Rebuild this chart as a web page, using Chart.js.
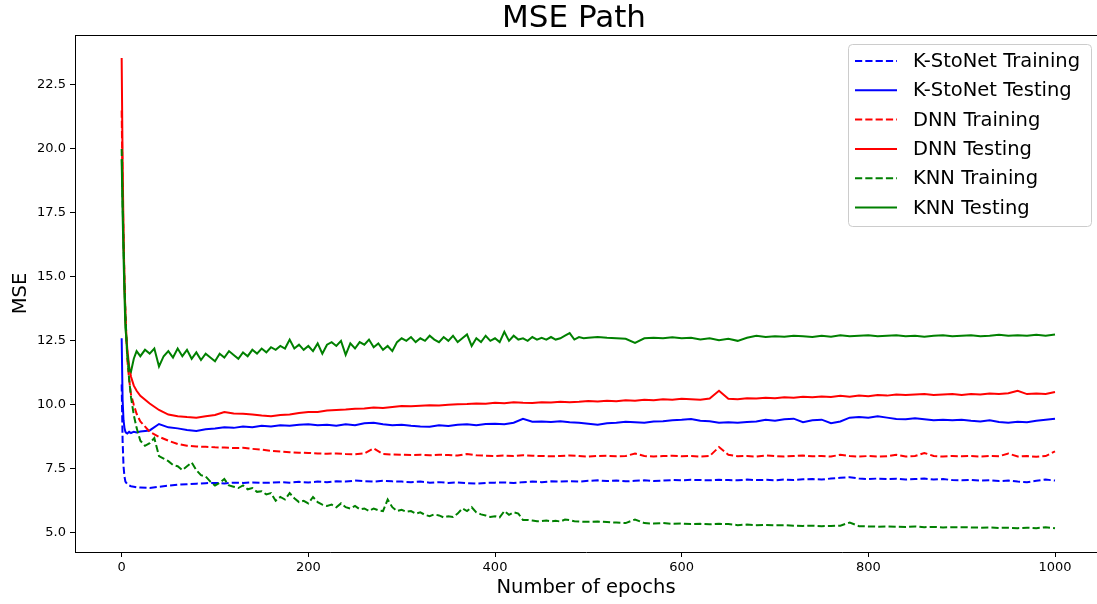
<!DOCTYPE html>
<html>
<head>
<meta charset="utf-8">
<title>MSE Path</title>
<script src="https://cdn.jsdelivr.net/npm/chart.js@4.4.0/dist/chart.umd.min.js"></script>
<style>
  html, body { margin: 0; padding: 0; background: #fff; overflow: hidden; }
</style>
</head>
<body>
<canvas id="msePath" width="1097" height="604"></canvas>
<script>
const epochs = [0, 1, 2, 3, 4, 5, 6, 8, 10, 13, 16, 20,
  30, 40, 50, 60, 70, 80, 90, 100,
  110, 120, 130, 140, 150, 160, 170, 180, 190, 200,
  210, 220, 230, 240, 250, 260, 270, 280, 290, 300,
  310, 320, 330, 340, 350, 360, 370, 380, 390, 400,
  410, 420, 430, 440, 450, 460, 470, 480, 490, 500,
  510, 520, 530, 540, 550, 560, 570, 580, 590, 600,
  610, 620, 630, 640, 650, 660, 670, 680, 690, 700,
  710, 720, 730, 740, 750, 760, 770, 780, 790, 800,
  810, 820, 830, 840, 850, 860, 870, 880, 890, 900,
  910, 920, 930, 940, 950, 960, 970, 980, 990, 1000];

// the KNN curves are noisier, so they were read more densely up to epoch 500
const knnEpochs = [0, 1, 2, 3, 4, 5, 6, 8, 10, 13, 16,
  20, 25, 30, 35, 40, 45, 50, 55, 60, 65,
  70, 75, 80, 85, 90, 95, 100, 105, 110, 115,
  120, 125, 130, 135, 140, 145, 150, 155, 160, 165,
  170, 175, 180, 185, 190, 195, 200, 205, 210, 215,
  220, 225, 230, 235, 240, 245, 250, 255, 260, 265,
  270, 275, 280, 285, 290, 295, 300, 305, 310, 315,
  320, 325, 330, 335, 340, 345, 350, 355, 360, 365,
  370, 375, 380, 385, 390, 395, 400, 405, 410, 415,
  420, 425, 430, 435, 440, 445, 450, 455, 460, 465,
  470, 475, 480, 485, 490, 495, 500,
  510, 520, 530, 540, 550, 560, 570, 580, 590, 600,
  610, 620, 630, 640, 650, 660, 670, 680, 690, 700,
  710, 720, 730, 740, 750, 760, 770, 780, 790, 800,
  810, 820, 830, 840, 850, 860, 870, 880, 890, 900,
  910, 920, 930, 940, 950, 960, 970, 980, 990, 1000];

const kstonetTrain = [10.8, 8.6, 7.6, 7.2, 7.0, 6.95, 6.9, 6.85, 6.82, 6.8, 6.78, 6.77,
  6.75, 6.8, 6.84, 6.88, 6.9, 6.92, 6.94, 6.95,
  6.93, 6.96, 6.95, 6.97, 6.95, 6.96, 6.98, 6.96, 6.99, 6.97,
  7.0, 6.98, 7.01, 7.0, 7.04, 7.02, 7.0, 7.03, 7.01, 7.0,
  6.98, 7.0, 6.96, 6.98, 6.95, 6.97, 6.94, 6.92, 6.95, 6.96,
  6.97, 6.95, 6.98, 7.0, 6.98, 7.01, 7.0, 7.02, 7.0, 7.03,
  7.05, 7.02, 7.04, 7.01, 7.03, 7.05, 7.02, 7.04, 7.06, 7.05,
  7.07, 7.06, 7.05, 7.07, 7.06, 7.05, 7.08, 7.06, 7.07, 7.05,
  7.08, 7.06, 7.09, 7.1, 7.08, 7.12, 7.15, 7.17, 7.12, 7.1,
  7.12, 7.1, 7.11, 7.08, 7.1, 7.12, 7.08, 7.1, 7.06, 7.05,
  7.07, 7.04, 7.05, 7.02, 7.04, 7.0, 6.98, 7.03, 7.08, 7.04];

const kstonetTest = [12.6, 10.2, 9.4, 9.1, 8.95, 8.9, 8.88, 8.95, 8.9, 8.95, 8.92, 8.96,
  9.0, 9.25, 9.12, 9.08, 9.02, 8.98, 9.05, 9.08,
  9.12, 9.1, 9.15, 9.12, 9.18, 9.15, 9.2, 9.18, 9.22, 9.24,
  9.2, 9.22, 9.18, 9.24, 9.2, 9.28, 9.3, 9.24, 9.2, 9.22,
  9.18, 9.15, 9.14, 9.2, 9.17, 9.22, 9.24, 9.2, 9.25, 9.26,
  9.24, 9.3, 9.45, 9.34, 9.35, 9.33, 9.36, 9.32, 9.3, 9.26,
  9.22, 9.28, 9.3, 9.34, 9.32, 9.3, 9.35, 9.36, 9.4, 9.42,
  9.45, 9.38, 9.36, 9.3, 9.32, 9.3, 9.33, 9.35, 9.42, 9.38,
  9.44, 9.46, 9.32, 9.4, 9.42, 9.28, 9.35, 9.5, 9.52, 9.5,
  9.55, 9.5, 9.45, 9.44, 9.48, 9.44, 9.4, 9.42, 9.4, 9.42,
  9.38, 9.35, 9.4, 9.33, 9.3, 9.34, 9.32, 9.38, 9.42, 9.46];

const dnnTrain = [21.5, 18.5, 16.5, 14.8, 13.6, 12.6, 11.8, 11.0, 10.4, 10.0, 9.65, 9.35,
  8.95, 8.75, 8.6, 8.47, 8.4, 8.37, 8.36, 8.34,
  8.33, 8.31, 8.32, 8.28, 8.25, 8.2, 8.18, 8.15, 8.13, 8.12,
  8.1, 8.09, 8.1, 8.08, 8.07, 8.1, 8.3, 8.08, 8.06, 8.05,
  8.04, 8.05, 8.03, 8.05, 8.04, 8.02, 8.08, 8.03, 8.01, 8.0,
  8.02, 8.0, 8.03, 8.01, 8.0, 7.99, 8.0, 8.02, 8.0, 7.98,
  8.0, 8.01, 7.99, 8.0, 8.1, 8.0, 7.98, 8.0, 8.01, 7.99,
  8.0, 7.98, 8.0, 8.35, 8.05, 7.99, 8.0, 7.98, 8.02, 8.0,
  7.98, 8.0, 8.02, 7.99, 8.0, 7.98, 8.05, 8.0, 7.98, 8.0,
  7.98, 7.99, 8.05, 7.98, 8.0, 8.12, 8.0, 7.98, 8.0, 7.99,
  8.0, 7.98, 8.0, 7.99, 8.1, 7.98, 8.0, 7.97, 8.0, 8.18];

const dnnTest = [23.55, 19.5, 16.8, 14.8, 13.5, 12.7, 12.2, 11.5, 11.1, 10.75, 10.55, 10.35,
  10.05, 9.8, 9.62, 9.55, 9.52, 9.5, 9.55, 9.6,
  9.72, 9.66, 9.65, 9.62, 9.58, 9.55, 9.6, 9.62, 9.68, 9.72,
  9.72, 9.78, 9.8, 9.82, 9.85, 9.86, 9.9, 9.88, 9.92, 9.95,
  9.94, 9.96, 9.98, 9.97, 10.0, 10.02, 10.03, 10.05, 10.04, 10.08,
  10.06, 10.1, 10.08, 10.07, 10.1, 10.09, 10.12, 10.1, 10.12, 10.15,
  10.13, 10.16, 10.14, 10.18, 10.16, 10.2, 10.18, 10.22, 10.2, 10.24,
  10.22, 10.2, 10.25, 10.55, 10.24, 10.22, 10.26, 10.25, 10.28, 10.26,
  10.3, 10.28, 10.32, 10.3, 10.33, 10.31, 10.35, 10.32, 10.36, 10.34,
  10.38, 10.36, 10.4, 10.38, 10.4, 10.42, 10.38, 10.4, 10.42, 10.38,
  10.42, 10.4, 10.44, 10.42, 10.45, 10.55, 10.42, 10.44, 10.42, 10.5];

const knnTrain = [20.0, 18.0, 16.3, 14.8, 13.6, 12.7, 12.0, 11.0, 10.3, 9.6, 9.1,
  8.6, 8.4, 8.5, 8.7, 8.0, 7.9, 7.8, 7.65, 7.6, 7.45,
  7.6, 7.75, 7.45, 7.25, 7.2, 7.0, 6.85, 6.95, 7.1, 6.85,
  6.8, 6.75, 6.85, 6.7, 6.75, 6.6, 6.62, 6.5, 6.55, 6.25,
  6.4, 6.3, 6.55, 6.35, 6.2, 6.25, 6.15, 6.4, 6.2, 6.1,
  6.05, 6.1, 6.0, 6.15, 6.0, 5.95, 6.05, 5.92, 5.95, 5.85,
  5.95, 5.88, 5.85, 6.3, 6.0, 5.85, 5.9, 5.82, 5.85, 5.75,
  5.8, 5.7, 5.65, 5.72, 5.68, 5.6, 5.65, 5.62, 5.75, 5.95,
  5.85, 6.0, 5.8, 5.72, 5.68, 5.62, 5.65, 5.6, 5.85, 5.7,
  5.8, 5.75, 5.5, 5.5, 5.48, 5.45, 5.46, 5.48, 5.45, 5.47,
  5.44, 5.52, 5.5, 5.45, 5.44, 5.43, 5.43,
  5.44, 5.42, 5.4, 5.38, 5.52, 5.38, 5.36, 5.38, 5.35, 5.36,
  5.34, 5.35, 5.33, 5.35, 5.34, 5.3, 5.32, 5.3, 5.31, 5.29,
  5.3, 5.28, 5.27, 5.28, 5.26, 5.27, 5.28, 5.4, 5.26, 5.25,
  5.24, 5.25, 5.24, 5.23, 5.25, 5.22, 5.23, 5.21, 5.22, 5.22,
  5.21, 5.2, 5.21, 5.19, 5.2, 5.18, 5.2, 5.18, 5.22, 5.18];

const knnTest = [19.6, 17.5, 15.8, 14.3, 13.0, 12.6, 12.0, 11.4, 11.3, 11.8, 12.1,
  11.9, 12.15, 12.0, 12.2, 11.5, 11.9, 12.1, 11.85, 12.2, 11.9,
  12.15, 11.8, 12.05, 11.75, 12.0, 11.85, 11.7, 12.0, 11.85, 12.1,
  11.95, 11.8, 12.05, 11.9, 12.15, 12.0, 12.2, 12.05, 12.25, 12.15,
  12.3, 12.2, 12.55, 12.2, 12.35, 12.15, 12.3, 12.1, 12.4, 12.0,
  12.35, 12.45, 12.3, 12.5, 11.95, 12.4, 12.2, 12.45, 12.35, 12.55,
  12.25, 12.4, 12.15, 12.3, 12.1, 12.45, 12.6, 12.5, 12.65, 12.45,
  12.6, 12.5, 12.7, 12.55, 12.45, 12.65, 12.5, 12.7, 12.45, 12.6,
  12.75, 12.3, 12.6, 12.45, 12.7, 12.5, 12.6, 12.45, 12.85, 12.5,
  12.7, 12.55, 12.6, 12.5, 12.65, 12.55, 12.62, 12.55, 12.65, 12.55,
  12.6, 12.7, 12.8, 12.55, 12.65, 12.6, 12.62,
  12.65, 12.62, 12.6, 12.58, 12.42, 12.6, 12.62, 12.6, 12.64, 12.6,
  12.62, 12.55, 12.6, 12.52, 12.58, 12.5, 12.62, 12.7, 12.65, 12.68,
  12.66, 12.7, 12.68, 12.65, 12.7, 12.66, 12.72, 12.68, 12.7, 12.72,
  12.68, 12.7, 12.72, 12.68, 12.7, 12.66, 12.7, 12.72, 12.68, 12.7,
  12.72, 12.68, 12.7, 12.74, 12.7, 12.72, 12.7, 12.74, 12.7, 12.75];

const seriesNames = ['K-StoNet Training', 'K-StoNet Testing', 'DNN Training', 'DNN Testing', 'KNN Training', 'KNN Testing'];
const seriesX = [epochs, epochs, epochs, epochs, knnEpochs, knnEpochs];
const seriesData = [kstonetTrain, kstonetTest, dnnTrain, dnnTest, knnTrain, knnTest];
const seriesColors = ['#0000ff', '#0000ff', '#ff0000', '#ff0000', '#008000', '#008000'];
const xTicks = [0, 200, 400, 600, 800, 1000];
const yTicks = [5.0, 7.5, 10.0, 12.5, 15.0, 17.5, 20.0, 22.5];

const FONT = '"DejaVu Sans", Verdana, sans-serif';
const DASH = [7.2, 3.1];

const datasets = seriesNames.map((name, i) => ({
  label: name,
  data: seriesData[i].map((v, j) => ({ x: seriesX[i][j], y: v })),
  borderColor: seriesColors[i],
  borderWidth: 2,
  borderDash: i % 2 === 0 ? DASH : [],
  pointRadius: 0,
  tension: 0,
  fill: false,
  order: seriesNames.length - i   // later series on top, like matplotlib
}));

// top spine, title and the boxed legend in the upper right
const frameAndLegend = {
  id: 'frameAndLegend',
  afterDraw(chart) {
    const { ctx, chartArea: a } = chart;
    ctx.save();
    ctx.strokeStyle = '#000';
    ctx.lineWidth = 1;
    ctx.beginPath();
    ctx.moveTo(a.left, a.top + 0.5);
    ctx.lineTo(a.right, a.top + 0.5);
    ctx.stroke();

    ctx.fillStyle = '#000';
    ctx.font = '31px ' + FONT;
    ctx.textAlign = 'center';
    ctx.textBaseline = 'middle';
    ctx.fillText('MSE Path', 574, 19);

    // legend
    const bx = 848.5, by = 44.5, bw = 243, bh = 182;
    ctx.beginPath();
    ctx.roundRect(bx, by, bw, bh, 4);
    ctx.fillStyle = 'rgba(255,255,255,0.8)';
    ctx.fill();
    ctx.strokeStyle = '#cccccc';
    ctx.stroke();

    ctx.font = '19.5px ' + FONT;
    ctx.textAlign = 'left';
    chart.data.datasets.forEach((ds, i) => {
      const y = 61 + i * 29.3;
      ctx.strokeStyle = ds.borderColor;
      ctx.lineWidth = 2;
      ctx.setLineDash(ds.borderDash);
      ctx.beginPath();
      ctx.moveTo(855, y);
      ctx.lineTo(897, y);
      ctx.stroke();
      ctx.setLineDash([]);
      ctx.fillStyle = '#000';
      ctx.fillText(ds.label, 913, y + 1);
    });
    ctx.restore();
  }
};

new Chart(document.getElementById('msePath'), {
  type: 'line',
  data: { datasets },
  plugins: [frameAndLegend],
  options: {
    responsive: false,
    animation: false,
    layout: { padding: { top: 35, left: 0, right: 0, bottom: 0 } },
    plugins: {
      legend: { display: false },
      title: { display: false },
      tooltip: { enabled: false }
    },
    scales: {
      x: {
        type: 'linear',
        min: -50,
        max: 1045,
        afterFit: s => { s.height = 52; },
        afterBuildTicks: s => { s.ticks = xTicks.map(v => ({ value: v })); },
        grid: { drawOnChartArea: false, drawTicks: true, tickLength: 5, tickColor: '#000' },
        border: { display: true, color: '#000', width: 1 },
        ticks: {
          color: '#000',
          padding: 3,
          maxRotation: 0,
          font: { family: FONT, size: 13 },
          callback: v => String(v)
        },
        title: {
          display: true,
          text: 'Number of epochs',
          color: '#000',
          font: { family: FONT, size: 19.5 },
          padding: { top: 4, bottom: 4 }
        }
      },
      y: {
        min: 4.25,
        max: 24.45,
        afterFit: s => { s.width = 75; },
        afterBuildTicks: s => { s.ticks = yTicks.map(v => ({ value: v })); },
        grid: { drawOnChartArea: false, drawTicks: true, tickLength: 5, tickColor: '#000' },
        border: { display: true, color: '#000', width: 1 },
        ticks: {
          color: '#000',
          padding: 4,
          font: { family: FONT, size: 13 },
          callback: v => Number(v).toFixed(1)
        },
        title: {
          display: true,
          text: 'MSE',
          color: '#000',
          font: { family: FONT, size: 19.5 },
          padding: { top: 9, bottom: 0 }
        }
      }
    }
  }
});
</script>
</body>
</html>
